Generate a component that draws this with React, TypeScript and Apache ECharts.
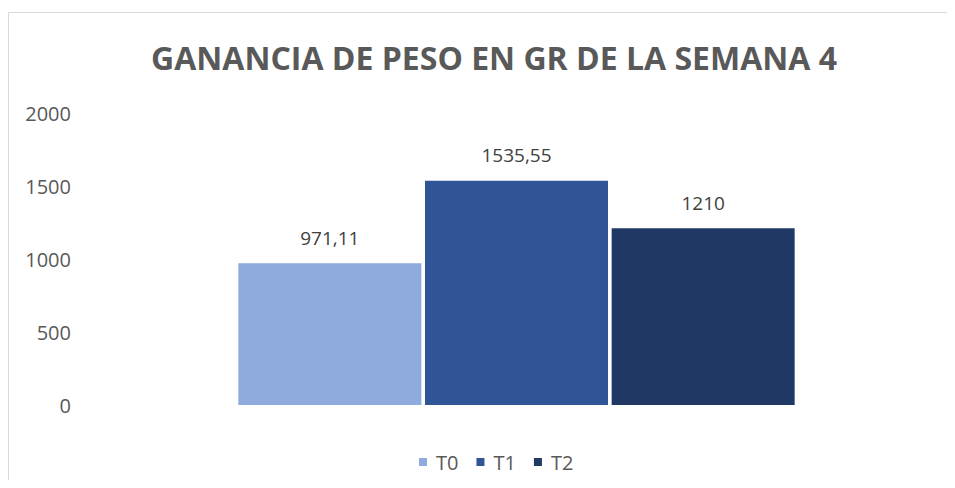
import React, { useEffect, useRef } from "react";
import * as echarts from "echarts";

const categories = ["Semana 4"];
const seriesNames = ["T0", "T1", "T2"];
const seriesValues = [971.11, 1535.55, 1210];
const seriesColors = ["#8faadc", "#2f5597", "#203864"];
const yTicks = { min: 0, max: 2000, interval: 500 };
const titleText = "GANANCIA DE PESO EN GR DE LA SEMANA 4";

const W = 939;
const H = 472;

export default function App() {
  const ref = useRef<HTMLDivElement>(null);
  useEffect(() => {
    if (!ref.current) return;
    const chart = echarts.init(ref.current, null, { renderer: "svg" });
    const font = "'Open Sans', 'Liberation Sans', sans-serif";
    chart.setOption({
      animation: false,
      backgroundColor: "#ffffff",
      textStyle: { fontFamily: font },
      title: {
        text: titleText,
        left: 481,
        top: 28,
        textAlign: "center",
        textStyle: { fontFamily: font, fontWeight: "bold", fontSize: 32, color: "#595959" },
      },
      graphic: [
        {
          type: "line",
          shape: { x1: 0.5, y1: 4.5, x2: W, y2: 4.5 },
          style: { stroke: "#d9d9d9", lineWidth: 1 },
          silent: true,
        },
        {
          type: "line",
          shape: { x1: 0.5, y1: 4.5, x2: 0.5, y2: H },
          style: { stroke: "#d9d9d9", lineWidth: 1 },
          silent: true,
        },
      ],
      legend: {
        data: seriesNames,
        top: 439,
        left: 406,
        icon: "rect",
        itemWidth: 8,
        itemHeight: 8,
        itemGap: 18,
        textStyle: { fontFamily: font, fontSize: 20, color: "#595959", padding: [0, 0, 0, 4] },
      },
      grid: { left: 78, top: 105, width: 872, height: 292, containLabel: false },
      xAxis: {
        type: "category",
        data: categories,
        axisLine: { show: false },
        axisTick: { show: false },
        axisLabel: { show: false },
      },
      yAxis: {
        type: "value",
        min: yTicks.min,
        max: yTicks.max,
        interval: yTicks.interval,
        axisLine: { show: false },
        axisTick: { show: false },
        splitLine: { show: false },
        axisLabel: {
          fontFamily: font,
          fontSize: 20,
          color: "#595959",
          margin: 15,
          formatter: (v: number) => String(v),
        },
      },
      series: seriesNames.map((name, i) => ({
        name,
        type: "bar",
        data: [seriesValues[i]],
        barWidth: 183,
        barGap: "2%",
        itemStyle: { color: seriesColors[i] },
        label: {
          show: true,
          position: "top",
          distance: 16,
          fontFamily: font,
          fontSize: 19,
          color: "#404040",
          formatter: (p: any) => String(p.value).replace(".", ","),
        },
      })),
    });
    return () => chart.dispose();
  }, []);
  return <div ref={ref} style={{ width: W, height: H }} />;
}
